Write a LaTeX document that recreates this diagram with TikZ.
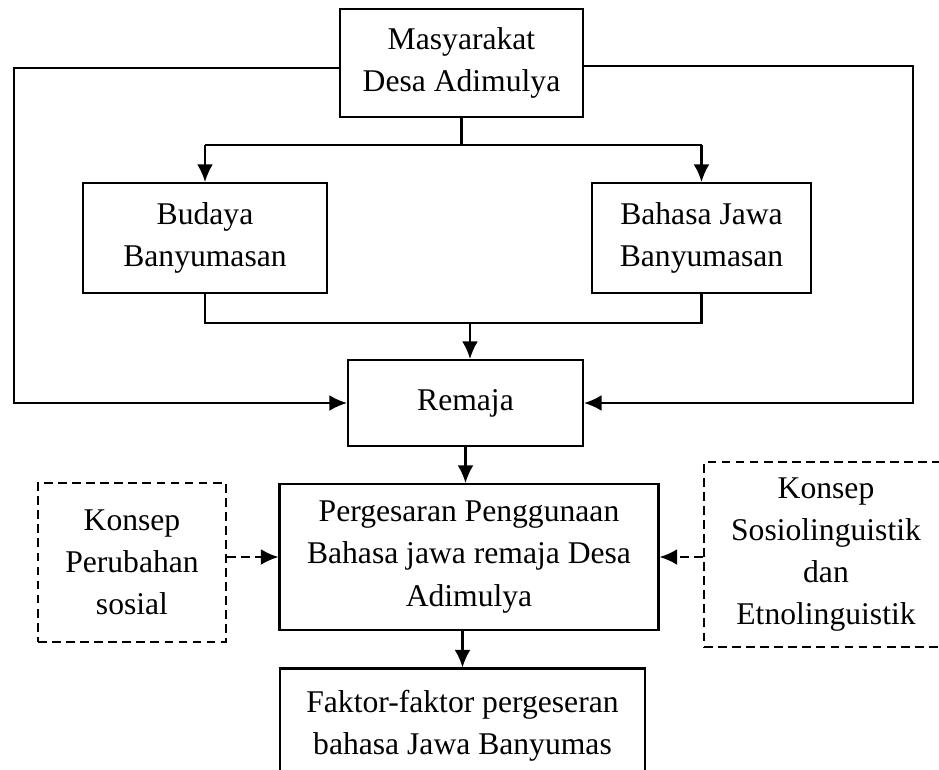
\documentclass[tikz,border=0pt]{standalone}
\usepackage{fontspec}
\setmainfont{Liberation Serif}
\usetikzlibrary{arrows.meta}

\tikzset{
  kotak/.style={draw, line width=1.2pt, align=center, font=\fontsize{18}{24}\selectfont},
  kotakputus/.style={kotak, dash pattern=on 5pt off 3pt},
  garis/.style={line width=1.2pt},
  panah/.style={garis, -{Latex[length=10pt,width=9pt]}},
}

\begin{document}
\begin{tikzpicture}[x=0.02cm, y=-0.02cm]
    \useasboundingbox (0,0) rectangle (939,769);

    % kotak-kotak
    \node[kotak, minimum width=4.86cm, minimum height=2.16cm] (masyarakat) at (461.5,63) {Masyarakat\\Desa Adimulya};
    \node[kotak, minimum width=4.88cm, minimum height=2.2cm] (budaya) at (205,238) {Budaya\\Banyumasan};
    \node[kotak, minimum width=4.38cm, minimum height=2.2cm] (bahasa) at (701.5,238) {Bahasa Jawa\\Banyumasan};
    \node[kotak, minimum width=4.7cm, minimum height=1.72cm] (remaja) at (465.5,403) {Remaja};
    \node[kotak, minimum width=7.58cm, minimum height=2.92cm] (pergeseran) at (469,557) {Pergesaran Penggunaan\\Bahasa jawa remaja Desa\\Adimulya};
    \node[kotakputus, minimum width=3.76cm, minimum height=3.18cm] (perubahan) at (132,562.5) {Konsep\\Perubahan\\sosial};
    \node[kotakputus, minimum width=4.88cm, minimum height=3.7cm] (sosio) at (826,554.5) {Konsep\\Sosiolinguistik\\dan\\Etnolinguistik};
    \node[kotak, minimum width=7.3cm, minimum height=2.3cm] (faktor) at (462.5,726) {Faktor-faktor pergeseran\\bahasa Jawa Banyumas};

    % titik bantu
    \coordinate (cabang) at (461,145);
    \coordinate (gabung) at (470,323);
    \coordinate (kiri) at (14,68);
    \coordinate (kanan) at (913,66);

    % penghubung
    \draw[garis] (masyarakat.south) -- (masyarakat.south |- cabang);
    \draw[garis] (budaya.north |- cabang) -- (bahasa.north |- cabang);
    \draw[panah] (budaya.north |- cabang) -- (budaya.north);
    \draw[panah] (bahasa.north |- cabang) -- (bahasa.north);
    \draw[garis] (budaya.south) |- (gabung) -| (bahasa.south);
    \draw[panah] (gabung) -- (gabung |- remaja.north);
    \draw[panah] (masyarakat.west |- kiri) -- (kiri) |- (remaja.west);
    \draw[panah] (masyarakat.east |- kanan) -- (kanan) |- (remaja.east);
    \draw[panah] (remaja.south) -- (remaja.south |- pergeseran.north);
    \draw[panah, dash pattern=on 5pt off 3pt] (perubahan.east |- pergeseran.west) -- (pergeseran.west);
    \draw[panah, dash pattern=on 5pt off 3pt] (sosio.west |- pergeseran.east) -- (pergeseran.east);
    \draw[panah] (faktor.north |- pergeseran.south) -- (faktor.north);
\end{tikzpicture}
\end{document}
